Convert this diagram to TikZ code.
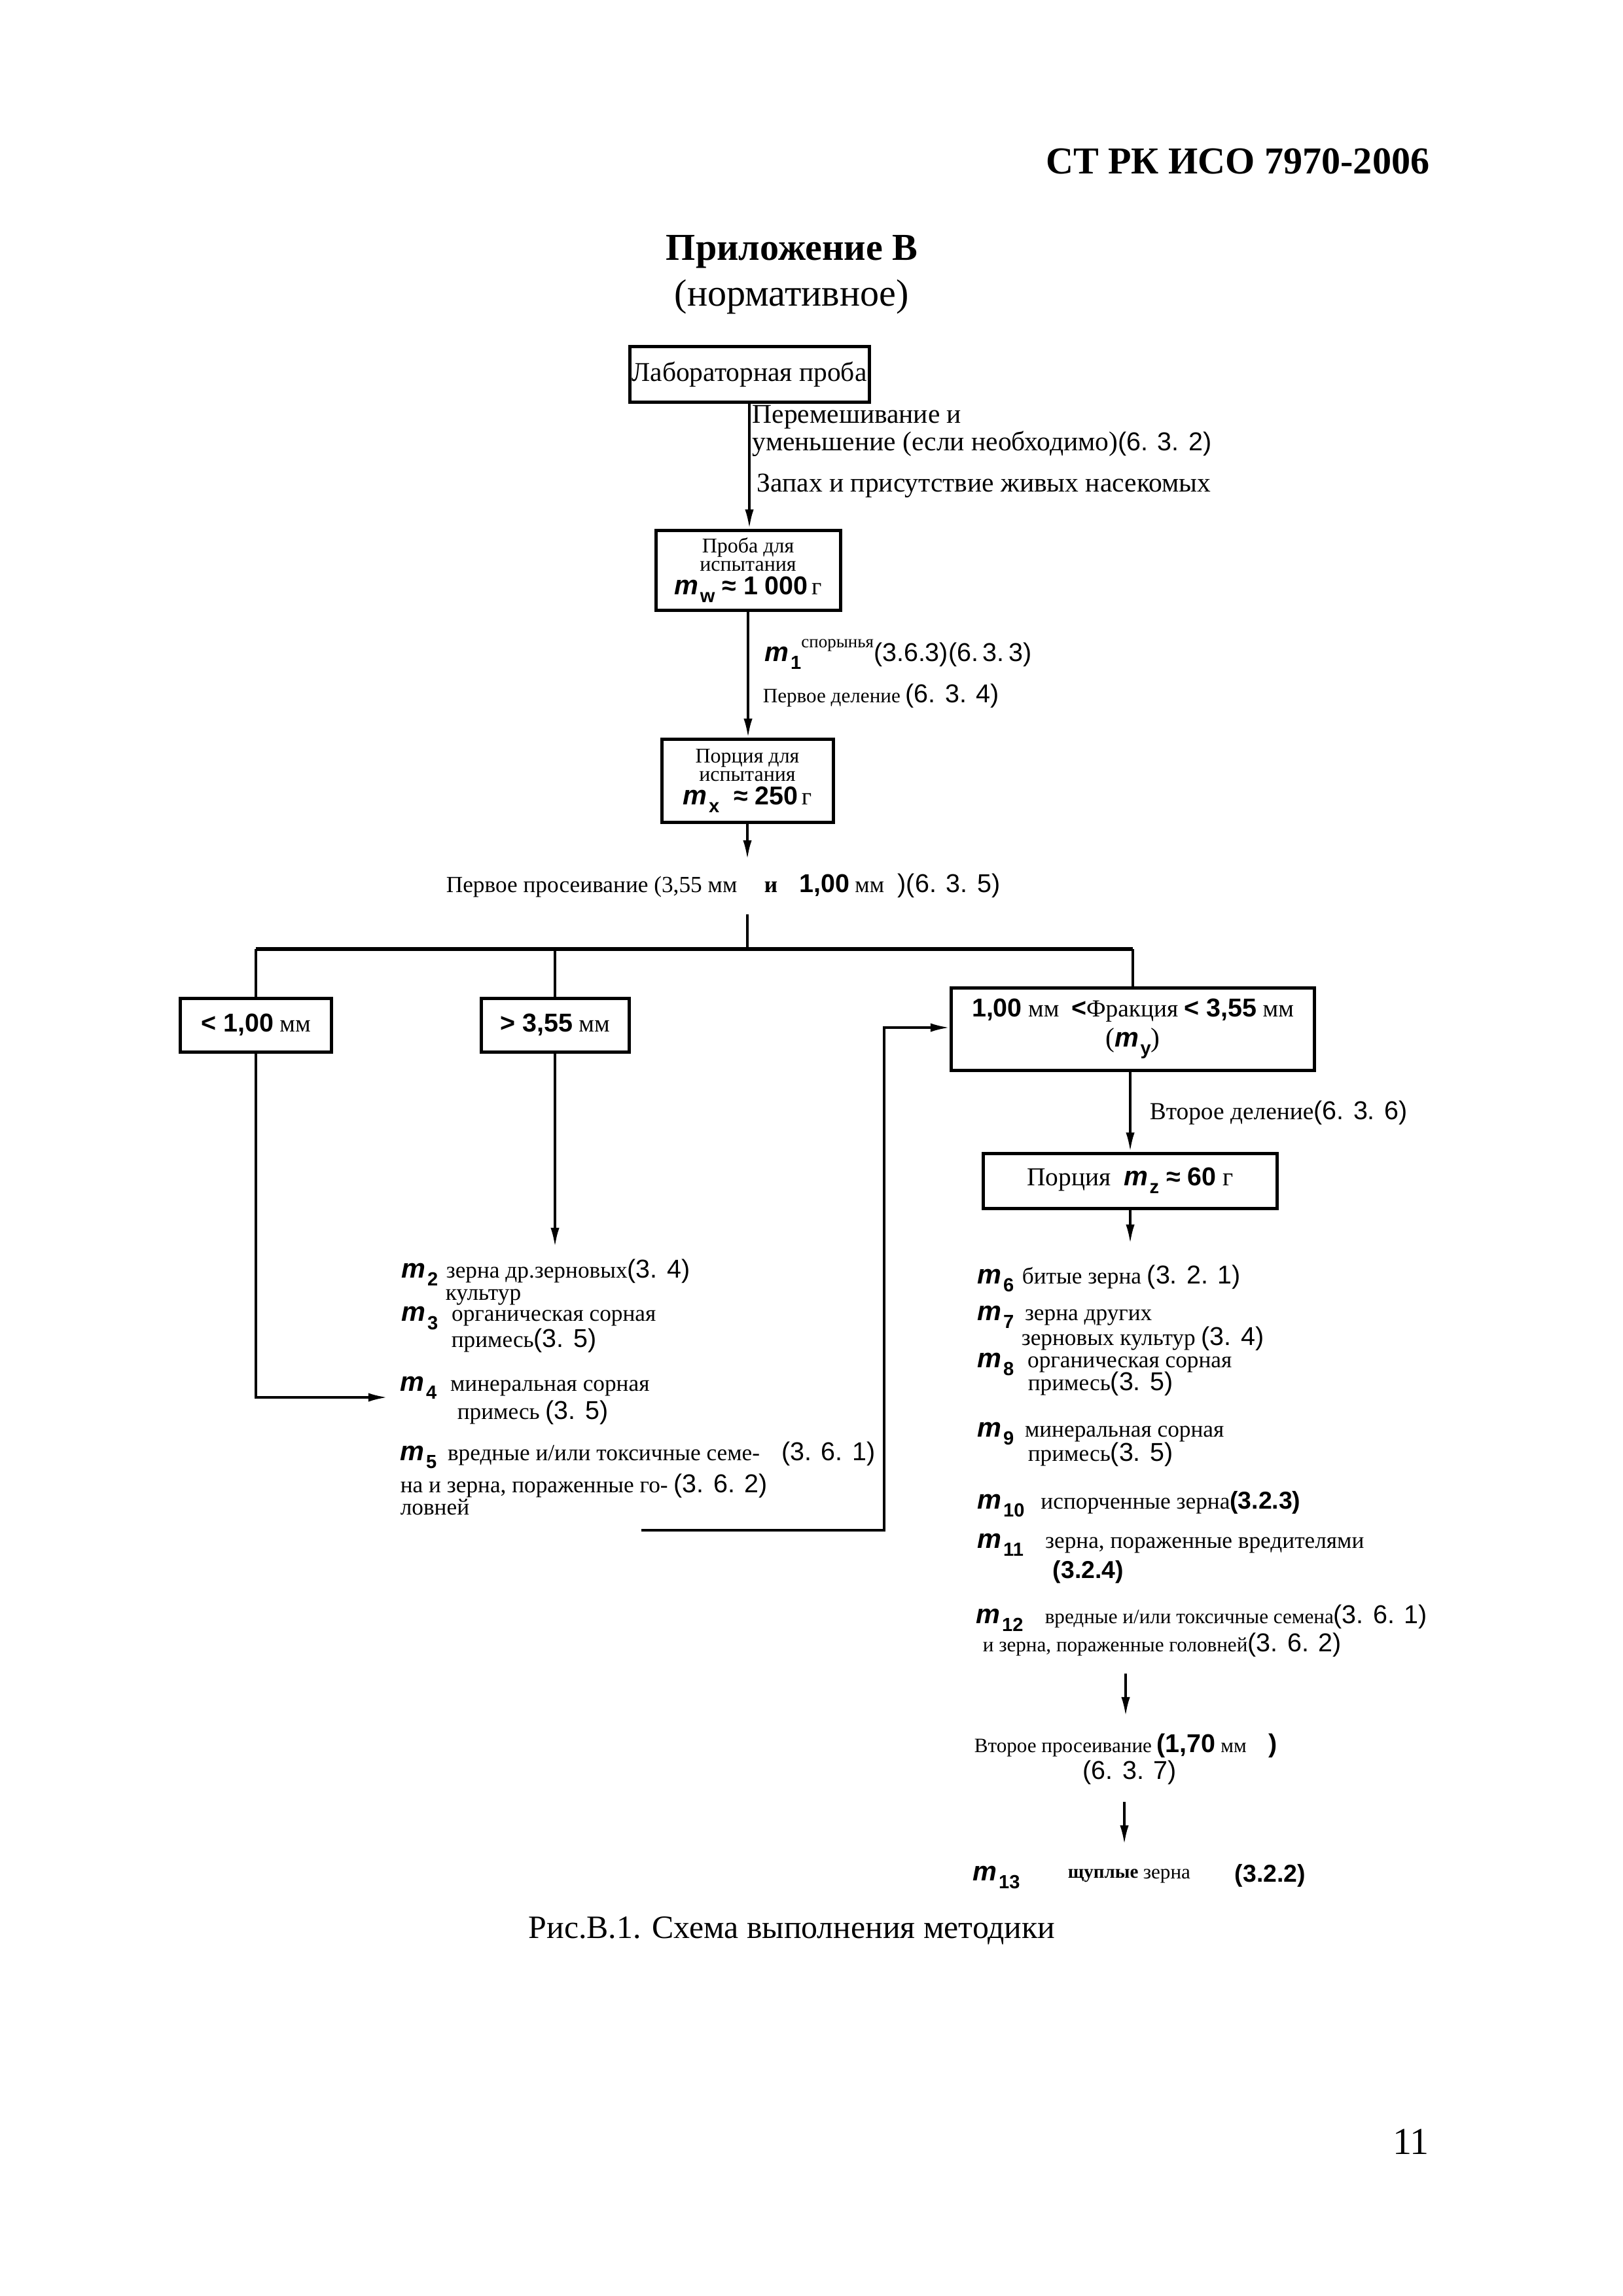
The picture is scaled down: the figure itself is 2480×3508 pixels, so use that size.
\documentclass[tikz,border=0pt]{standalone}
\usepackage{fontspec}
\setmainfont{Liberation Serif}
\newfontfamily\ar{Liberation Sans}
\usetikzlibrary{arrows.meta}
\newlength\pxu \setlength\pxu{0.0846774mm}
\newcommand\fs[2]{\fontsize{#1}{#2}\selectfont}
\newcommand\mv[1]{{\ar\bfseries\fontsize{10}{12}\selectfont\itshape m\kern0.6pt\raisebox{-0.55ex}{\upshape\fontsize{7}{8}\selectfont#1}}}
\newcommand\rf[1]{{\ar\fontsize{9.5}{11}\selectfont#1}}
\newcommand\rb[1]{{\ar\bfseries\fontsize{9}{11}\selectfont#1}}
\newcommand\bs[1]{{\ar\bfseries\fontsize{9.5}{11}\selectfont#1}}
\begin{document}
\begin{tikzpicture}[x=0.0846774mm, y=-0.0846774mm,
  box/.style={draw, line width=1.2pt, inner sep=0pt, align=center},
  bx/.style 2 args={minimum width=#1*\pxu, minimum height=#2*\pxu},
  conn/.style={line width=0.85pt},
  arr/.style={conn, -{Latex[length=7pt,width=3.2pt]}},
  busline/.style={line width=1.4pt},
  txt/.style={inner sep=0pt, anchor=west, font={\fs{8.5}{10}}}]
\fill[white] (0,0) rectangle (2480,3508);
\useasboundingbox (0,0) rectangle (2480,3508);

% header
\node[anchor=east, inner sep=0pt, font={\fs{14}{17}\bfseries}] (hdr) at (2185,246) {СТ РК ИСО 7970-2006};
\node[inner sep=0pt, font={\fs{14}{17}\bfseries}] (app) at (1210,385) {Приложение В};
\node[inner sep=0pt, font={\fs{14}{17}}] (norm) at (1210,454) {(нормативное)};

% main column boxes
\node[box, bx={366}{85}, font={\fs{10}{12}}] (lab) at (1145,572) {Лабораторная проба};
\node[box, bx={282}{122}, font={\fs{7.7}{6.8}}] (probe) at (1143,871)
  {Проба для\\испытания\\[2pt]{\bs{\mv{w} ≈ 1 000}\,\fs{9}{10}г}};
\node[box, bx={262}{127}, font={\fs{7.7}{6.8}}] (portion) at (1142,1193)
  {Порция для\\испытания\\[2pt]{\bs{\mv{x}\ \ ≈ 250}\,\fs{9}{10}г}};

% labels along main column
\node[txt, font={\fs{10}{12}}] (mix1) at (1149,637) {Перемешивание и};
\node[txt, font={\fs{10}{12}}] (mix2) at (1149,678) {уменьшение (если необходимо)\rf{(6. 3. 2)}};
\node[txt, font={\fs{10}{12}}] (smell) at (1156,742) {Запах и присутствие живых насекомых};
\node[txt] (m1) at (1168,1000) {\mv{1}\raisebox{1.3ex}{\fs{6.5}{8}спорынья}{\ar\fontsize{9.5}{11}\selectfont(3.6.3)(6.\,3.\,3)}};
\node[txt, font={\fs{7.5}{9}}] (div1) at (1165,1063) {Первое деление \rf{(6. 3. 4)}};
\node[txt, font={\fs{8.5}{10}}] (sieve) at (681,1353)
  {Первое просеивание (3,55 мм\hspace{10pt}\textbf{и}\hspace{8pt}\bs{1,00}\hspace{2pt}мм\hspace{5pt}\rf{)(6. 3. 5)}};

% fraction boxes
\node[box, bx={231}{82}, font={\fs{9}{10}}] (lt) at (391,1566) {\bs{< 1,00} мм};
\node[box, bx={226}{82}, font={\fs{9}{10}}] (gt) at (848,1566) {\bs{> 3,55} мм};
\node[box, bx={555}{126}, font={\fs{9}{10}}] (frac) at (1731,1572)
  {\bs{1,00}\ мм\ \ \bs{<}Фракция \bs{< 3,55}\ мм\\[1pt]{\fs{10}{12}(\mv{y})}};
\node[box, bx={449}{84}, font={\fs{9.5}{11}}] (por) at (1727,1804) {Порция\ \ \bs{\mv{z} ≈ 60}\ г};
\node[txt, font={\fs{9}{10}}] (div2) at (1756,1700) {Второе деление\rf{(6. 3. 6)}};

% left column texts
\node[txt] (m2) at (613,1944) {\mv{2}\hspace{3pt}зерна др.зерновых\rf{(3. 4)}};
\node[txt] (kult) at (680,1982) {культур};
\node[txt] (m3) at (613,2014) {\mv{3}\hspace{5pt}органическая сорная};
\node[txt] (pr3) at (689,2048) {примесь\rf{(3. 5)}};
\node[txt] (m4) at (611,2120) {\mv{4}\hspace{5pt}минеральная сорная};
\node[txt] (pr4) at (698,2158) {примесь \rf{(3. 5)}};
\node[txt] (m5) at (611,2223) {\mv{5}\hspace{4pt}вредные и/или токсичные семе-\hspace{8pt}\rf{(3. 6. 1)}};
\node[txt] (m5b) at (611,2270) {на и зерна, пораженные го- \rf{(3. 6. 2)}};
\node[txt] (m5c) at (611,2303) {ловней};

% right column texts
\node[txt] (m6) at (1493,1953) {\mv{6}\hspace{3pt}битые зерна \rf{(3. 2. 1)}};
\node[txt] (m7) at (1493,2012) {\mv{7}\hspace{4pt}зерна других};
\node[txt] (m7b) at (1560,2045) {зерновых культур \rf{(3. 4)}};
\node[txt] (m8) at (1493,2084) {\mv{8}\hspace{5pt}органическая сорная};
\node[txt] (m8b) at (1570,2114) {примесь\rf{(3. 5)}};
\node[txt] (m9) at (1493,2190) {\mv{9}\hspace{4pt}минеральная сорная};
\node[txt] (m9b) at (1570,2222) {примесь\rf{(3. 5)}};
\node[txt] (m10) at (1493,2298) {\mv{10}\hspace{6pt}испорченные зерна\rb{(3.2.3)}};
\node[txt] (m11) at (1493,2360) {\mv{11}\hspace{8pt}зерна, пораженные вредителями};
\node[txt] (m11b) at (1608,2402) {\rb{(3.2.4)}};
\node[txt, font={\fs{7.5}{9}}] (m12) at (1491,2472) {\mv{12}\hspace{8pt}вредные и/или токсичные семена\rf{(3. 6. 1)}};
\node[txt, font={\fs{7.5}{9}}] (m12b) at (1501,2513) {и зерна, пораженные головней\rf{(3. 6. 2)}};
\node[txt, font={\fs{7.5}{9}}] (sv2) at (1488,2667) {Второе просеивание \bs{(1,70} мм\hspace{8pt}\bs{)}};
\node[txt] (sv2r) at (1654,2708) {\rf{(6. 3. 7)}};
\node[txt] (m13) at (1486,2868) {\mv{13}};
\node[txt, font={\fs{7}{8}\bfseries}] (m13a) at (1631,2866) {щуплые};
\node[txt, font={\fs{7.5}{9}}] (m13b) at (1746,2866) {зерна};
\node[txt] (m13c) at (1886,2866) {\rb{(3.2.2)}};

% caption and page number
\node[inner sep=0pt, font={\fs{12}{14}}] (cap) at (1210,2950) {Рис.В.1. Схема выполнения методики};
\node[inner sep=0pt, font={\fs{14}{17}}] (pg) at (2156,3272) {11};

% coordinates for free ends
\coordinate (c1) at (1142,1313);
\coordinate (c2) at (1142,1397);
\coordinate (busL) at (391,1450);
\coordinate (busM) at (1142,1450);
\coordinate (busR) at (1731,1450);
\coordinate (cm4) at (592,2135);
\coordinate (cm2) at (848,1905);
\coordinate (cm6) at (1727,1900);
\coordinate (fb) at (980,2338);
\coordinate (fbk) at (1351,1570);
\coordinate (a1s) at (1720,2557);
\coordinate (a1e) at (1720,2622);
\coordinate (a2s) at (1718,2753);
\coordinate (a2e) at (1718,2818);

% connectors
\draw[arr] (lab.south) -- (lab.south |- probe.north);
\draw[arr] (probe.south) -- (probe.south |- portion.north);
\draw[arr] (portion.south) -- (c1);
\draw[conn] (c2) -- (busM);
\draw[busline] (busL) -- (busR);
\draw[conn] (busL) -- (lt.north);
\draw[conn] (gt.north |- busL) -- (gt.north);
\draw[conn] (busR) -- (frac.north);
\draw[arr] (lt.south) |- (cm4);
\draw[arr] (gt.south) -- (cm2);
\draw[arr] (fb) -| (fbk) -- (fbk -| frac.west);
\draw[arr] (frac.south -| por.north) -- (por.north);
\draw[arr] (por.south) -- (cm6);
\draw[arr] (a1s) -- (a1e);
\draw[arr] (a2s) -- (a2e);
\end{tikzpicture}
\end{document}
